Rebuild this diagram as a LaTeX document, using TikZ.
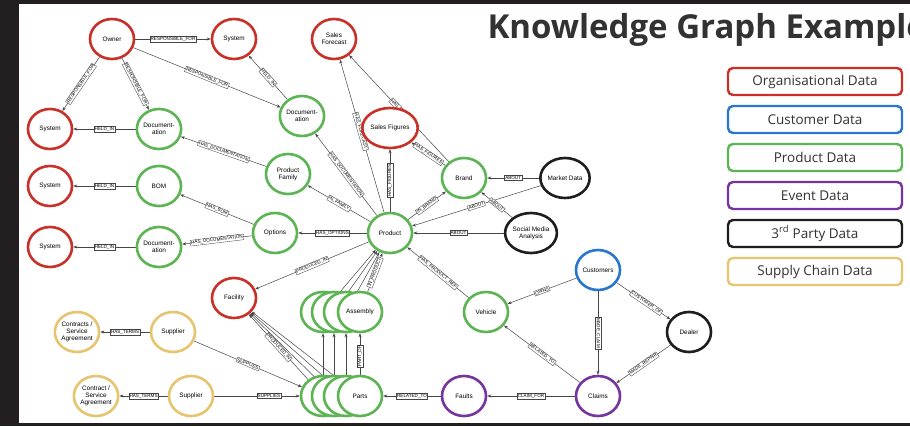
\documentclass[tikz,border=0pt]{standalone}
\usepackage{fontspec}
\setmainfont{Liberation Sans}
\newfontfamily\legendfont{Open Sans}
\usetikzlibrary{shapes.geometric, arrows.meta, positioning}

\definecolor{orgred}{RGB}{200,48,40}
\definecolor{custblue}{RGB}{40,118,205}
\definecolor{prodgreen}{RGB}{92,180,82}
\definecolor{eventpurple}{RGB}{118,52,160}
\definecolor{thirdblack}{RGB}{30,30,30}
\definecolor{supplyyellow}{RGB}{230,196,112}
\definecolor{edgegray}{RGB}{70,70,70}
\definecolor{legtext}{RGB}{50,50,50}
\definecolor{darkbg}{RGB}{35,31,32}

\pgfdeclarelayer{back}
\pgfdeclarelayer{bg}
\pgfsetlayers{back,bg,main}

\tikzset{
  ent/.style={ellipse, draw=#1, line width=2.6pt, fill=white, minimum width=44pt,
    minimum height=40pt, inner sep=0pt, align=center, font=\fontsize{6.4}{7}\selectfont},
  rel/.style={draw=edgegray, line width=0.5pt, -{Stealth[length=4pt,width=3pt]}},
  lbl/.style={sloped, draw=edgegray, fill=white, line width=0.35pt, inner sep=0.8pt,
    font=\fontsize{4.6}{4.6}\selectfont},
  legbox/.style={draw=#1, rounded corners=5pt, line width=2.4pt, minimum width=174pt,
    minimum height=27pt, font=\legendfont\fontsize{13.5}{14}\selectfont, text=legtext},
}

\begin{document}
\begin{tikzpicture}[x=1pt, y=-1pt]
  \useasboundingbox (0,0) rectangle (910,426);
  \begin{pgfonlayer}{back}
  \fill[darkbg] (0,0) rectangle (910,426);
  \fill[white] (19,4) rectangle (910,423);
  \end{pgfonlayer}

  \node[anchor=base west, font=\legendfont\bfseries\fontsize{33}{35}\selectfont, text=legtext] (title) at (484,38) {Knowledge Graph Example};

  \node[legbox=orgred] (legorg) at (815,81.5) {Organisational Data};
  \node[legbox=custblue, below=8.6pt of legorg] (legcust) {Customer Data};
  \node[legbox=prodgreen, below=8.6pt of legcust] (legprod) {Product Data};
  \node[legbox=eventpurple, below=8.6pt of legprod] (legevent) {Event Data};
  \node[legbox=thirdblack, below=8.6pt of legevent] (legthird) {3\textsuperscript{rd} Party Data};
  \node[legbox=supplyyellow, below=8.6pt of legthird] (legsupply) {Supply Chain Data};

  \node[ent=orgred] (owner) at (112,39) {Owner};
  \node[ent=orgred] (sysA) at (234,39) {System};
  \node[ent=orgred] (sysB) at (50,129) {System};
  \node[ent=orgred] (sysC) at (50,186) {System};
  \node[ent=orgred] (sysD) at (50,247) {System};
  \node[ent=orgred] (fcast) at (334,39) {Sales\\Forecast};
  \node[ent=orgred] (figs) at (390,128) {Sales Figures};
  \node[ent=orgred] (fac) at (234,298) {Facility};

  \node[ent=prodgreen] (docA) at (302,116) {Document-\\ation};
  \node[ent=prodgreen] (docB) at (159,129) {Document-\\ation};
  \node[ent=prodgreen] (bom) at (159,186) {BOM};
  \node[ent=prodgreen] (docC) at (159,247) {Document-\\ation};
  \node[ent=prodgreen] (fam) at (288,174) {Product\\Family};
  \node[ent=prodgreen] (opts) at (275,233) {Options};
  \node[ent=prodgreen] (prod) at (390,233) {Product};
  \node[ent=prodgreen] (brand) at (464,178) {Brand};
  \node[ent=prodgreen] (veh) at (486,312) {Vehicle};
  \node[ent=prodgreen] (asmA) at (323,312) {};
  \node[ent=prodgreen] (asmB) at (334,312) {};
  \node[ent=prodgreen] (asmC) at (346,312) {};
  \node[ent=prodgreen] (asmD) at (360,312) {Assembly};
  \node[ent=prodgreen] (partsA) at (323,396) {};
  \node[ent=prodgreen] (partsB) at (334,396) {};
  \node[ent=prodgreen] (partsC) at (346,396) {};
  \node[ent=prodgreen] (partsD) at (360,396) {Parts};

  \node[ent=thirdblack] (mkt) at (565,178) {Market Data};
  \node[ent=thirdblack] (social) at (531,233) {Social Media\\Analysis};
  \node[ent=thirdblack] (dealer) at (689,332) {Dealer};
  \node[ent=custblue] (cust) at (598,270) {Customers};
  \node[ent=eventpurple] (faults) at (464,396) {Faults};
  \node[ent=eventpurple] (claims) at (598,396) {Claims};

  \node[ent=supplyyellow] (supA) at (173,332) {Supplier};
  \node[ent=supplyyellow] (supB) at (191,396) {Supplier};
  \node[ent=supplyyellow] (termsA) at (77,332) {Contracts /\\Service\\Agreement};
  \node[ent=supplyyellow] (termsB) at (96,396) {Contract /\\Service\\Agreement};

  \begin{pgfonlayer}{bg}
  \draw[rel] (owner) -- node[lbl]{RESPONSIBLE\_FOR} (sysA);
  \draw[rel] (owner) -- node[lbl]{RESPONSIBLE\_FOR} (sysB);
  \draw[rel] (owner) -- node[lbl]{RESPONSIBLE\_FOR} (docB);
  \draw[rel] (owner) -- node[lbl]{RESPONSIBLE\_FOR} (docA);
  \draw[rel] (docA) -- node[lbl]{HELD\_IN} (sysA);
  \draw[rel] (docB) -- node[lbl]{HELD\_IN} (sysB);
  \draw[rel] (bom) -- node[lbl]{HELD\_IN} (sysC);
  \draw[rel] (docC) -- node[lbl]{HELD\_IN} (sysD);
  \draw[rel] (fam) -- node[lbl]{HAS\_DOCUMENTATION} (docB);
  \draw[rel] (opts) -- node[lbl]{HAS\_BOM} (bom);
  \draw[rel] (opts) -- node[lbl]{HAS\_DOCUMENTATION} (docC);
  \draw[rel] (prod) -- node[lbl]{HAS\_OPTIONS} (opts);
  \draw[rel] (prod) -- node[lbl]{IN\_FAMILY} (fam);
  \draw[rel] (prod) -- node[lbl]{HAS\_DOCUMENTATION} (docA);
  \draw[rel] (prod) -- node[lbl, pos=.53]{HAS\_FORECAST} (fcast);
  \draw[rel] (prod) -- node[lbl]{HAS\_FIGURES} (figs);
  \draw[rel] (brand) -- node[lbl]{HAS\_FIGURES} (figs);
  \draw[rel] (brand) -- node[lbl, pos=.45]{HAS\_FORECAST} (fcast);
  \draw[rel] (prod) -- node[lbl]{IN\_BRAND} (brand);
  \draw[rel] (mkt) -- node[lbl]{ABOUT} (brand);
  \draw[rel] (mkt) -- node[lbl]{ABOUT} (prod);
  \draw[rel] (social) -- node[lbl]{ABOUT} (brand);
  \draw[rel] (social) -- node[lbl]{ABOUT} (prod);
  \draw[rel] (prod) -- node[lbl]{PRODUCED\_IN} (fac);
  \draw[rel] (veh) -- node[lbl]{HAS\_PRODUCT\_REF} (prod);
  \draw[rel] (asmA) -- (prod);
  \draw[rel] (asmB) -- (prod);
  \draw[rel] (asmC) -- (prod);
  \draw[rel] (asmD) -- node[lbl]{IN\_PRODUCT} (prod);
  \draw[rel] (partsA.north) -- (asmA.south);
  \draw[rel] (partsB.north) -- (asmB.south);
  \draw[rel] (partsC.north) -- (asmC.south);
  \draw[rel] (partsD.north) -- node[lbl, pos=.45]{PART\_OF} (asmD.south);
  \draw[rel] (partsA) -- node[lbl]{PRODUCED\_IN} (fac);
  \draw[rel] (partsB) -- (fac);
  \draw[rel] (partsC) -- (fac);
  \draw[rel] (partsD) -- (fac);
  \draw[rel] (supA) -- node[lbl]{HAS\_TERMS} (termsA);
  \draw[rel] (supB) -- node[lbl]{HAS\_TERMS} (termsB);
  \draw[rel] (supA) -- node[lbl]{SUPPLIES} (partsA);
  \draw[rel] (supB) -- node[lbl, pos=.64]{SUPPLIES} (partsA);
  \draw[rel] (faults) -- node[lbl]{RELATED\_TO} (partsD);
  \draw[rel] (claims) -- node[lbl]{CLAIM\_FOR} (faults);
  \draw[rel] (claims) -- node[lbl]{RELATED\_TO} (veh);
  \draw[rel] (cust) -- node[lbl]{OWNS} (veh);
  \draw[rel] (cust) -- node[lbl]{MADE\_CLAIM} (claims);
  \draw[rel] (cust) -- node[lbl, pos=.55]{CUSTOMER\_OF} (dealer);
  \draw[rel] (dealer) -- node[lbl]{MADE\_REPAIR} (claims);
  \end{pgfonlayer}
\end{tikzpicture}
\end{document}
